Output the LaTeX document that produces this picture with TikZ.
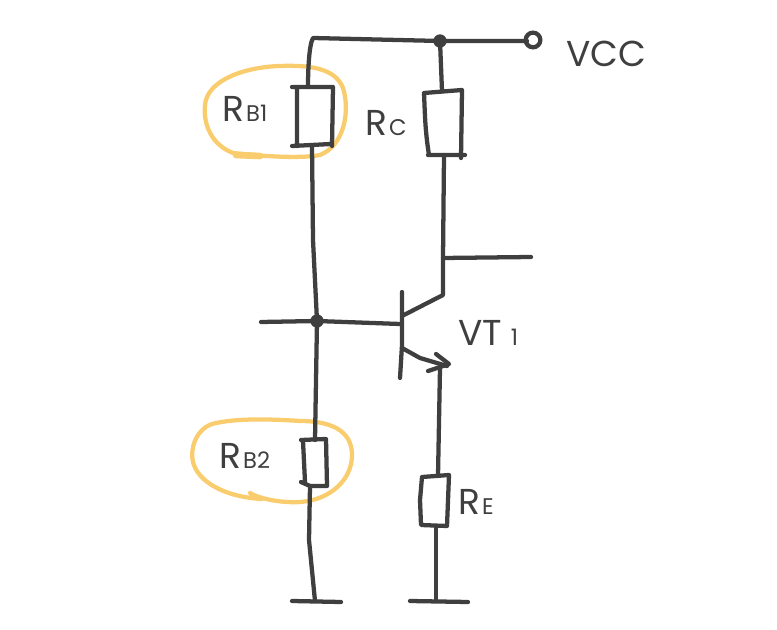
\documentclass[tikz,border=0pt]{standalone}
\usepackage{fontspec}
\setmainfont{Poppins}
\definecolor{ink}{HTML}{3F3F3F}
\definecolor{hilite}{HTML}{F9CD6E}
\newcommand{\bigtxt}[1]{{\fontsize{27}{27}\selectfont #1}}
\newcommand{\smltxt}[1]{\hspace{1.5pt}{\fontsize{17}{17}\selectfont #1}}
\tikzset{
  wire/.style={draw=ink,line width=3.2pt,line cap=round,line join=round},
  resist/.style={wire},
  loopmark/.style={draw=hilite,line width=3.2pt,line cap=round,line join=round},
  lbl/.style={anchor=base west,inner sep=0pt,text=ink},
  joint/.style={circle,fill=ink,inner sep=0pt,minimum size=10pt}
}
\begin{document}
\begin{tikzpicture}[x=0.75pt,y=-0.75pt]
\useasboundingbox (0,0) rectangle (777,630);
% highlights
\draw[loopmark] (233,153) .. controls (212,145) and (203,125) .. (205,105)
  .. controls (207,80) and (245,67) .. (280,66)
  .. controls (310,65) and (335,68) .. (343,88)
  .. controls (350,110) and (345,145) .. (320,155)
  .. controls (300,159) and (260,156) .. (233,153);
\draw[hilite,line width=5pt,line cap=round] (236,155) -- (260,156);
\draw[loopmark] (250,493) .. controls (262,500) and (285,503) .. (300,502)
  .. controls (330,500) and (352,480) .. (352,455)
  .. controls (352,430) and (330,421) .. (300,421)
  .. controls (270,419) and (235,418) .. (212,424)
  .. controls (195,430) and (190,450) .. (193,462)
  .. controls (198,482) and (225,497) .. (262,499);
% named connection points
\coordinate (corner) at (313,38);
\coordinate (term) at (527,41);
\coordinate (rbIt) at (308,87);
\coordinate (rbIb) at (312,146);
\coordinate (rct) at (442,91);
\coordinate (rcb) at (444,155);
\coordinate (rbIIt) at (315,440);
\coordinate (rbIIb) at (310,486);
\coordinate (ret) at (438,476);
\coordinate (reb) at (436,526);
\coordinate (outj) at (443,258);
\coordinate (outend) at (531,257);
\coordinate (basein) at (261,322);
\coordinate (basebar) at (400,324);
\coordinate (colbar) at (402,316);
\coordinate (colknee) at (443,295);
\coordinate (emtip) at (447,366);
\coordinate (embar) at (402,348);
\coordinate (emwire) at (440,368);
\coordinate (gndL) at (315,601);
\coordinate (gndR) at (436,601);
% joints and terminal
\node[joint] (jtop) at (440,41) {};
\node[joint] (jbase) at (317,321) {};
\node[circle,draw=ink,line width=3.2pt,inner sep=0pt,minimum size=11pt] (vccterm) at (533,40) {};
% top rail
\draw[wire] (rbIt) .. controls (308,70) and (309,45) .. (corner) -- (jtop.center) -- (term);
\draw[wire] (jtop.center) -- (rct);
% resistors
\draw[resist] (292,87) -- (333,87) -- (332,146) (297,87) -- (297,146) (292,146) -- (331,144);
\draw[resist] (424,93) -- (462,90) -- (461,158) (424,93) .. controls (425,115) and (425,130) .. (429,155) (428,155) -- (465,155);
\draw[resist] (301,440) -- (326,439) -- (327,486) -- (310,486) -- (301,482) (303,441) -- (305,482);
\draw[resist] (422,477) -- (449,475) -- (447,526) -- (421,525) -- (420,500) -- (422,477);
% wires
\draw[wire] (rbIb) -- (313,240) -- (jbase.center) -- (rbIIt);
\draw[wire] (rcb) -- (outj) -- (colknee) -- (colbar);
\draw[wire] (outj) -- (outend);
\draw[wire] (basein) -- (jbase.center) -- (basebar);
\draw[wire] (402,292) -- (402,345) -- (400,378);
\draw[wire] (embar) -- (420,358) -- (emtip);
\draw[wire] (436,354) -- (449,364) -- (428,371);
\draw[wire] (emwire) -- (ret);
\draw[wire] (reb) -- (gndR);
\draw[wire] (rbIIb) -- (309,540) -- (gndL);
\draw[wire] (410,601) -- (468,602);
\draw[wire] (292,601) -- (341,602);
% labels
\node[lbl] (lRBI) at (222,122) {\bigtxt{R}\smltxt{B1}};
\node[lbl] (lRC) at (365,136) {\bigtxt{R}\smltxt{C}};
\node[lbl] (lRBII) at (219,468) {\bigtxt{R}\smltxt{B2}};
\node[lbl] (lRE) at (458,514) {\bigtxt{R}\smltxt{E}};
\node[lbl] (lVCC) at (566,67) {\fontsize{27}{27}\selectfont VCC};
\node[lbl] (lVT) at (458,346) {\bigtxt{VT}\hspace{5pt}\smltxt{1}};
\end{tikzpicture}
\end{document}
